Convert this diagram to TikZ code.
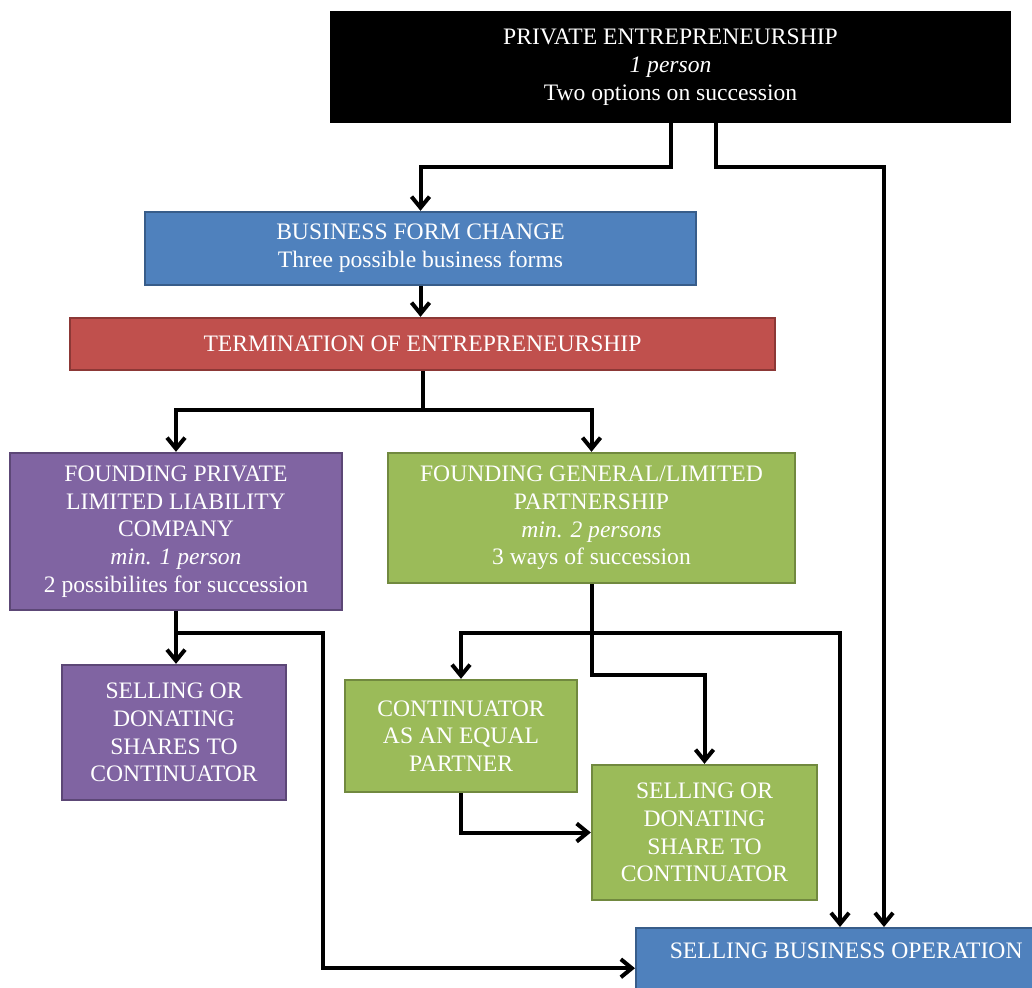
\documentclass[tikz,border=0pt]{standalone}
\usepackage{fontspec}
\setmainfont{Liberation Serif}
\usetikzlibrary{arrows.meta}
\definecolor{bxBlue}{HTML}{4F81BD}
\definecolor{bxBlueD}{HTML}{385D8A}
\definecolor{bxRed}{HTML}{C0504D}
\definecolor{bxRedD}{HTML}{8C3836}
\definecolor{bxPurple}{HTML}{8064A2}
\definecolor{bxPurpleD}{HTML}{5C4776}
\definecolor{bxGreen}{HTML}{9BBB59}
\definecolor{bxGreenD}{HTML}{71893F}
\begin{document}
\begin{tikzpicture}[x=0.5pt, y=-0.5pt,
  bx/.style={rectangle, line width=1.2pt, text=white, align=center, inner sep=0pt, font=\fontsize{11.8}{13.9}\selectfont},
  bBlack/.style={bx, fill=black, draw=black},
  bBlue/.style={bx, fill=bxBlue, draw=bxBlueD},
  bRed/.style={bx, fill=bxRed, draw=bxRedD},
  bPurple/.style={bx, fill=bxPurple, draw=bxPurpleD},
  bGreen/.style={bx, fill=bxGreen, draw=bxGreenD},
  ar/.style={draw=black, line width=2pt, -{Straight Barb[length=5.5pt, width=9pt]}}]
\useasboundingbox (0,0) rectangle (1032,987);
\node[bBlack, minimum width=339.5pt, minimum height=55pt] (priv) at (670.5,67) {PRIVATE ENTREPRENEURSHIP\\\textit{1 person}\\Two options on succession};
\node[bBlue, minimum width=275.5pt, minimum height=36.5pt] (bfc) at (420.5,248.5) {BUSINESS FORM CHANGE\\Three possible business forms};
\node[bRed, minimum width=352.5pt, minimum height=26pt] (term) at (422.5,344) {TERMINATION OF ENTREPRENEURSHIP};
\node[bPurple, minimum width=166pt, minimum height=78.5pt] (fplc) at (176,531.5) {FOUNDING PRIVATE\\LIMITED LIABILITY\\COMPANY\\\textit{min. 1 person}\\2 possibilites for succession};
\node[bGreen, minimum width=203.5pt, minimum height=65pt] (fglp) at (591.5,518) {FOUNDING GENERAL/LIMITED\\PARTNERSHIP\\\textit{min. 2 persons}\\3 ways of succession};
\node[bPurple, minimum width=112pt, minimum height=67.5pt] (sdsc) at (174,732.5) {SELLING OR\\DONATING\\SHARES TO\\CONTINUATOR};
\node[bGreen, minimum width=116pt, minimum height=56pt] (ceq) at (461,736) {CONTINUATOR\\AS AN EQUAL\\PARTNER};
\node[bGreen, minimum width=112.5pt, minimum height=67.5pt] (sdsh) at (704.5,832.5) {SELLING OR\\DONATING\\SHARE TO\\CONTINUATOR};
\node[bBlue, anchor=north west, minimum width=210pt, text height=15pt, text depth=25pt] (sbo) at (635,927) {SELLING BUSINESS OPERATION};
\coordinate (k1) at (884,167);
\coordinate (t1) at (424,410);
\coordinate (f1) at (323,633);
\coordinate (g1) at (840,633);
\coordinate (g2) at (706,675);
\draw[ar] (priv.south) -- (priv.south |- k1) -| (bfc.north);
\draw[ar] ([xshift=22.5pt]priv.south) |- (k1) -- (k1 |- sbo.north);
\draw[ar] (bfc.south) -- (bfc.south |- term.north);
\draw[ar] (term.south) -- (term.south |- t1) -| (fplc.north);
\draw[ar] (term.south |- t1) -| (fglp.north);
\draw[ar] (fplc.south) -- (fplc.south |- sdsc.north);
\draw[ar] (fplc.south |- f1) -- (f1) |- (sbo.west);
\draw[ar] (fglp.south) -- (fglp.south |- g1) -| (ceq.north);
\draw[ar] (fglp.south |- g1) -- (g1) -- (g1 |- sbo.north);
\draw[ar] (fglp.south |- g1) |- (sdsh.north |- g2) -- (sdsh.north);
\draw[ar] (ceq.south) |- (sdsh.west);
\end{tikzpicture}
\end{document}
